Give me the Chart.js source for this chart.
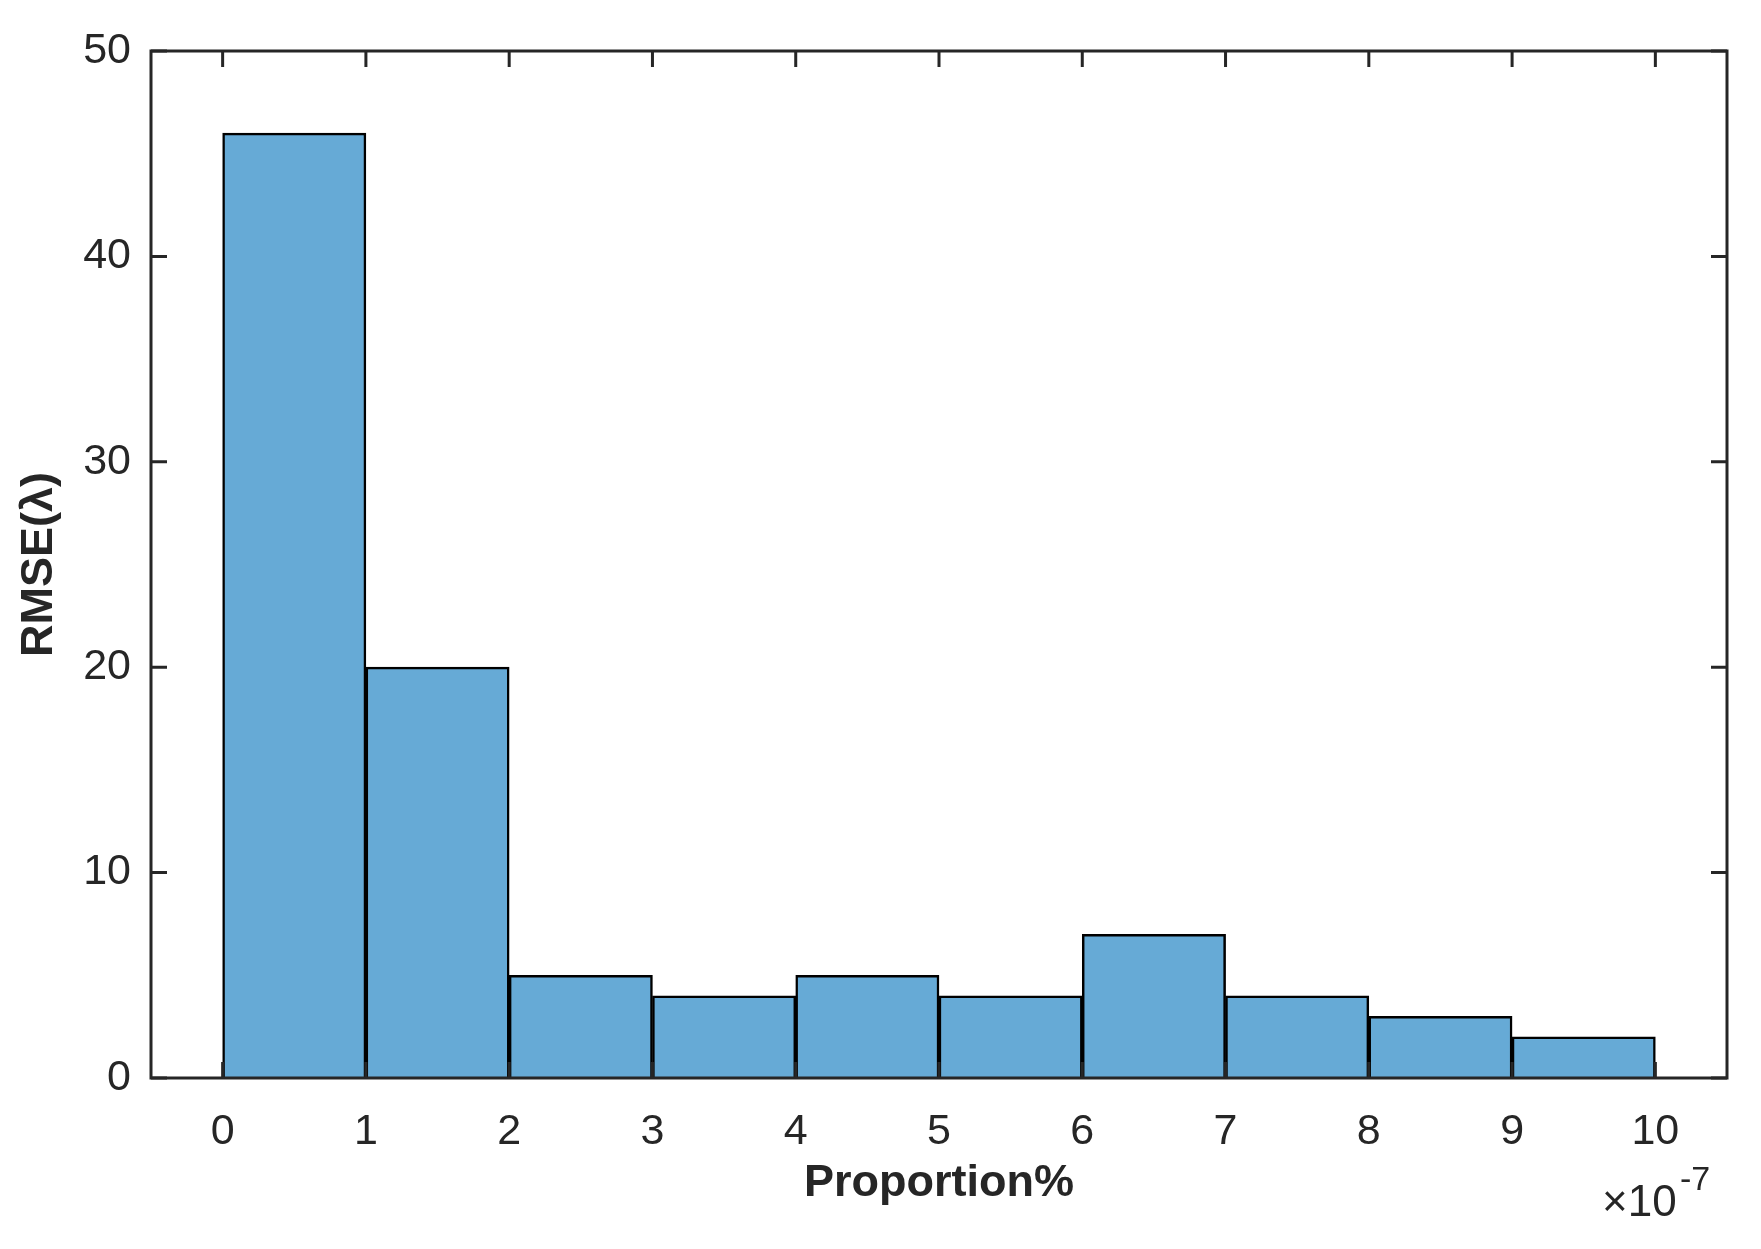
<!DOCTYPE html>
<html>
<head>
<meta charset="utf-8">
<script src="https://cdn.jsdelivr.net/npm/chart.js@4"></script>
<style>
  html, body { margin: 0; padding: 0; background: #fff; }
  #wrap { width: 1761px; height: 1249px; }
</style>
</head>
<body>
<div id="wrap"><canvas id="c" width="1761" height="1249"></canvas></div>
<script>
// --- DATA ---
const binCenters = [0.5, 1.5, 2.5, 3.5, 4.5, 5.5, 6.5, 7.5, 8.5, 9.5];
const counts = [46, 20, 5, 4, 5, 4, 7, 4, 3, 2];
const xTicks = [0, 1, 2, 3, 4, 5, 6, 7, 8, 9, 10];
const yTicks = [0, 10, 20, 30, 40, 50];

const ink = '#262626';
const font = 'Arial, "Liberation Sans", sans-serif';

// box, inward ticks, axis titles and exponent
const frame = {
  id: 'frame',
  afterDraw(chart) {
    const { ctx, chartArea: a, scales: { x, y } } = chart;
    ctx.save();
    ctx.strokeStyle = ink;
    ctx.lineWidth = 3;
    ctx.strokeRect(a.left, a.top, a.right - a.left, a.bottom - a.top);
    const t = 16;
    ctx.beginPath();
    xTicks.forEach(v => {
      const px = x.getPixelForValue(v);
      ctx.moveTo(px, a.bottom); ctx.lineTo(px, a.bottom - t);
      ctx.moveTo(px, a.top); ctx.lineTo(px, a.top + t);
    });
    yTicks.forEach(v => {
      const py = y.getPixelForValue(v);
      ctx.moveTo(a.left, py); ctx.lineTo(a.left + t, py);
      ctx.moveTo(a.right, py); ctx.lineTo(a.right - t, py);
    });
    ctx.stroke();

    ctx.fillStyle = ink;
    ctx.textAlign = 'center';
    ctx.textBaseline = 'middle';
    ctx.font = 'bold 45px ' + font;
    ctx.fillText('Proportion%', (a.left + a.right) / 2, 1184);
    ctx.save();
    ctx.translate(40, (a.top + a.bottom) / 2);
    ctx.rotate(-Math.PI / 2);
    ctx.fillText('RMSE(\u03bb)', 0, 0);
    ctx.restore();

    ctx.textAlign = 'left';
    ctx.textBaseline = 'alphabetic';
    ctx.font = '44px ' + font;
    ctx.fillText('\u00d710', 1602, 1216);
    ctx.font = '34px ' + font;
    ctx.fillText('-7', 1680, 1190);
    ctx.restore();
  }
};

new Chart(document.getElementById('c'), {
  type: 'bar',
  data: {
    datasets: [{
      data: binCenters.map((c, i) => ({ x: c, y: counts[i] })),
      backgroundColor: 'rgb(102,170,214)',
      borderColor: '#000',
      borderWidth: 2.5,
      barPercentage: 1,
      categoryPercentage: 1
    }]
  },
  options: {
    responsive: false,
    animation: false,
    devicePixelRatio: 1,
    layout: { padding: { left: 0, right: 34, top: 51, bottom: 0 } },
    plugins: { legend: { display: false }, tooltip: { enabled: false } },
    scales: {
      x: {
        type: 'linear',
        offset: false,
        min: -0.5,
        max: 10.5,
        afterBuildTicks: s => { s.ticks = xTicks.map(v => ({ value: v })); },
        afterFit: s => { s.height = 171; },
        grid: { display: false },
        border: { display: false },
        ticks: { color: ink, font: { size: 43, family: font }, padding: 20, maxRotation: 0 }
      },
      y: {
        min: 0,
        max: 50,
        afterBuildTicks: s => { s.ticks = yTicks.map(v => ({ value: v })); },
        afterFit: s => { s.width = 151; },
        grid: { display: false },
        border: { display: false },
        ticks: { color: ink, font: { size: 43, family: font }, padding: 12 }
      }
    }
  },
  plugins: [frame]
});
</script>
</body>
</html>
